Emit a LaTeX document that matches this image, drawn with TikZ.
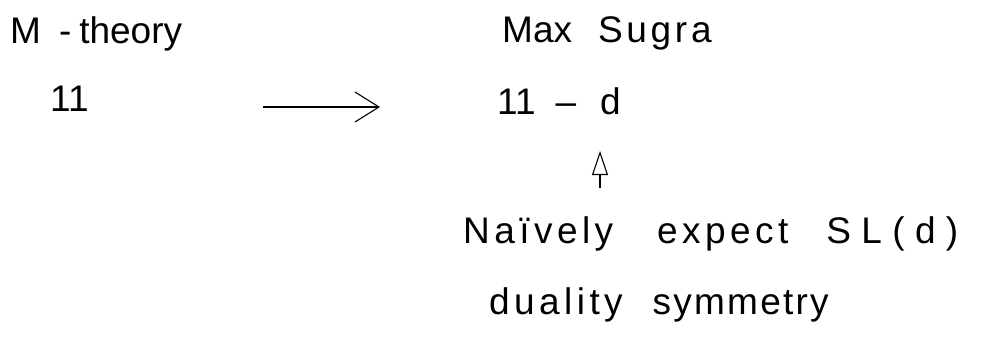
\documentclass[tikz,border=0pt]{standalone}
\usepackage{fontspec}
\setmainfont{Liberation Sans}
\usetikzlibrary{arrows.meta}
\begin{document}
\begin{tikzpicture}[x=1pt,y=-1pt,
  lbl/.style={anchor=base west, inner sep=0pt, font=\fontsize{37}{40}\selectfont},
  conn/.style={line width=1.1pt}]
\useasboundingbox (0,0) rectangle (990,342);
\node[lbl] (mt) at (10,44) {M\hspace{18pt}-\hspace{8pt}theory};
\node[lbl] (eleven) at (50,112) {11};
\node[lbl] (ms) at (502,43) {Max\hspace{26pt}{\addfontfeature{LetterSpace=10}Sugra}};
\node[lbl] (ed) at (497,115) {11\hspace{20pt}–\hspace{24pt}d};
\node[lbl,font=\fontsize{37}{40}\selectfont\addfontfeature{LetterSpace=12}] (nv) at (463,243)
  {Naïvely\hspace{44pt}expect\hspace{38pt}{\addfontfeature{LetterSpace=28}SL(d)}};
\node[lbl,font=\fontsize{37}{40}\selectfont\addfontfeature{LetterSpace=12}] (du) at (489,314)
  {duality\hspace{30pt}{\addfontfeature{LetterSpace=6}symmetry}};
\coordinate (a1) at (263,107);
\coordinate (a2) at (380,107);
\draw[conn,-{Straight Barb[length=24pt,width=30pt]}] (a1) -- (a2);
\coordinate (b1) at (600,188);
\coordinate (b2) at (600,151);
\draw[conn,-{Triangle[open,length=24pt,width=16pt]}] (b1) -- (b2);
\end{tikzpicture}
\end{document}
